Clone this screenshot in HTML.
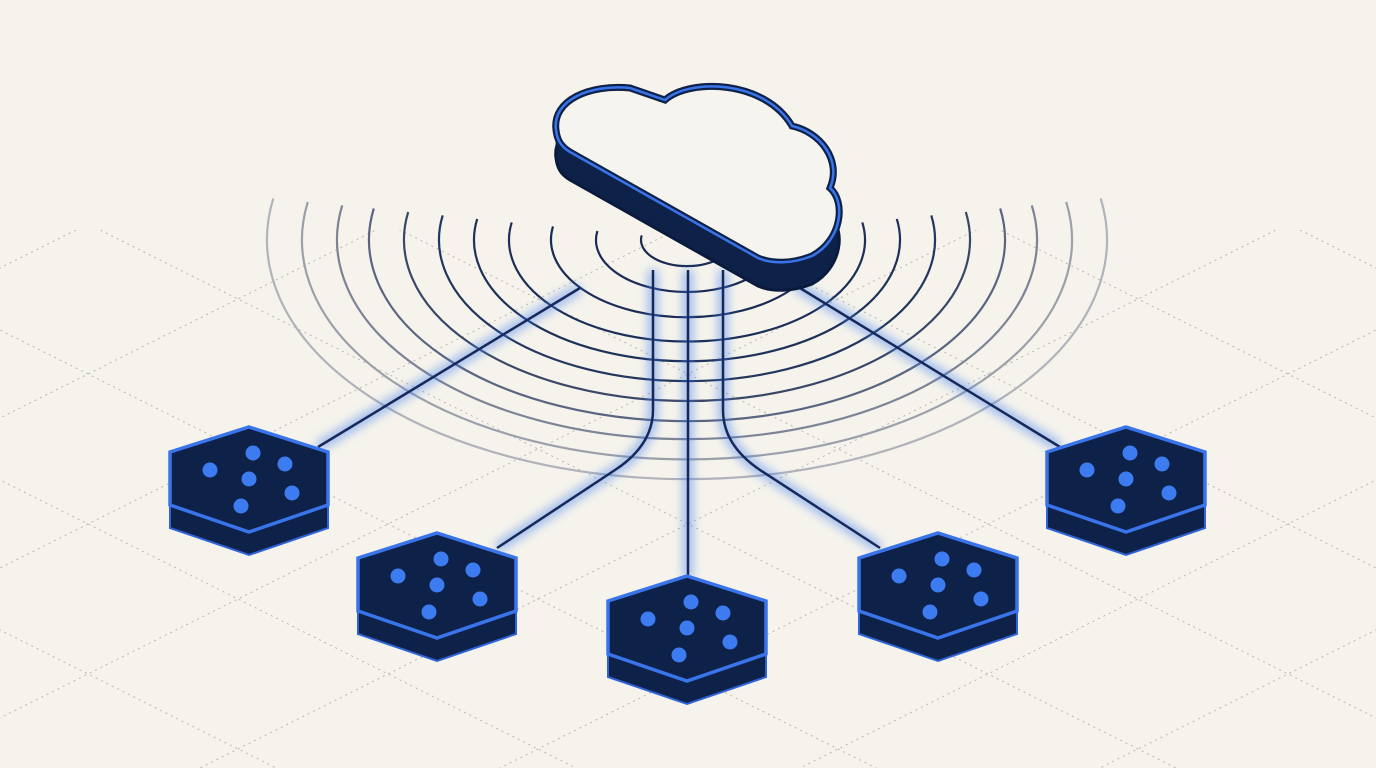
<!DOCTYPE html>
<html><head><meta charset="utf-8"><style>html,body{margin:0;padding:0;background:#f5f3ec;overflow:hidden;width:1376px;height:768px}svg{display:block}</style></head>
<body>
<svg width="1376" height="768" viewBox="0 0 1376 768" xmlns="http://www.w3.org/2000/svg" style="overflow:hidden">
<defs>
<filter id="glow" x="-20%" y="-20%" width="140%" height="140%"><feGaussianBlur stdDeviation="5"/></filter>
<clipPath id="gclip"><rect x="0" y="230" width="1376" height="538"/></clipPath>
<g id="hex">
 <polygon points="0,23 79,48 79,101 0,128 -79,101 -79,48" fill="#0e2249" stroke="#2f63d8" stroke-width="2"/>
 <polygon points="0,0 79,25 79,78 0,105 -79,78 -79,25" fill="#0e2249" stroke="#3a74ea" stroke-width="3.5"/>
 <g fill="#3d7cf0">
  <circle cx="4" cy="26" r="7.5"/><circle cx="-39" cy="43" r="7.5"/><circle cx="36" cy="37" r="7.5"/>
  <circle cx="0" cy="52" r="7.5"/><circle cx="43" cy="66" r="7.5"/><circle cx="-8" cy="79" r="7.5"/>
 </g>
</g>
<path id="cloud" d="M556,130 C552,100 590,84 630,88 L665,100 C690,78 765,80 792,126 C820,132 842,160 830,188 C846,202 842,240 812,256 C792,264 772,264 758,258 L570,152 C560,146 557,139 556,130 Z"/>
</defs>
<rect width="1376" height="768" fill="#f5f3ec"/>
<g clip-path="url(#gclip)" stroke="#b9b8ae" stroke-width="1" stroke-dasharray="2 4" fill="none">
 <path d="M-400,280 L1376,1168 M-300,180 L1476,1068 M-200,80 L1576,968 M-100,-20 L1676,868 M0,-120 L1776,768 M100,-220 L1876,668 M200,-320 L1976,568 M300,-420 L2076,468 M-500,380 L1276,1268 M-600,480 L1176,1368 M-700,580 L1076,1468"/>
 <path d="M1776,280 L0,1168 M1676,180 L-100,1068 M1576,80 L-200,968 M1476,-20 L-300,868 M1376,-120 L-400,768 M1276,-220 L-500,668 M1176,-320 L-600,568 M1076,-420 L-700,468 M1876,380 L100,1268 M1976,480 L200,1368 M2076,580 L300,1468"/>
</g>
<g fill="none" stroke-width="2.2">
 <path d="M641.7,235.4 A46,26.2 0 1 0 732.3,235.4" stroke="#1a2c55"/>
 <path d="M597.4,231 A91,51.9 0 1 0 776.6,231" stroke="#1a2c55"/>
 <path d="M553,226.5 A136,77.5 0 1 0 821,226.5" stroke="#1a2c55"/>
 <path d="M511.7,222.4 A178,101.5 0 1 0 862.3,222.4" stroke="#1c2f58"/>
 <path d="M477.2,218.9 A213,121.4 0 1 0 896.8,218.9" stroke="#1e3159"/>
 <path d="M442.7,215.4 A248,141.4 0 1 0 931.3,215.4" stroke="#23365d"/>
 <path d="M408.2,212 A283,161.3 0 1 0 965.8,212" stroke="#3a4868"/>
 <path d="M373.8,208.5 A318,181.3 0 1 0 1000.2,208.5" stroke="#5a6580"/>
 <path d="M342.2,205.4 A350,199.5 0 1 0 1031.8,205.4" stroke="#7c8496"/>
 <path d="M307.8,201.9 A385,219.5 0 1 0 1066.2,201.9" stroke="#9ba0ab"/>
 <path d="M273.3,198.4 A420,239.4 0 1 0 1100.7,198.4" stroke="#b0b3ba"/>
</g>
<g fill="none" stroke="#3d7cf0" stroke-width="9" opacity="0.55" filter="url(#glow)">
 <path d="M318,447 L580,288"/><path d="M1060,447 L795,285"/>
 <path d="M497,548 L615,470 Q653,445 653,410 L653,270"/>
 <path d="M688,578 L688,270"/>
 <path d="M880,548 L760,470 Q723,445 723,410 L723,270"/>
</g>
<g fill="none" stroke="#16295a" stroke-width="2.5">
 <path d="M318,447 L580,288"/><path d="M1060,447 L795,285"/>
 <path d="M497,548 L615,470 Q653,445 653,410 L653,270"/>
 <path d="M688,578 L688,270"/>
 <path d="M880,548 L760,470 Q723,445 723,410 L723,270"/>
</g>
<g fill="#0e2249">
 <use href="#cloud" y="28"/><use href="#cloud" y="24"/><use href="#cloud" y="20"/><use href="#cloud" y="16"/><use href="#cloud" y="12"/><use href="#cloud" y="8"/><use href="#cloud" y="4"/>
</g>
<use href="#cloud" y="28" fill="none" stroke="#0a1a3c" stroke-width="3"/>
<use href="#cloud" fill="#f6f4ee" stroke="#0e2249" stroke-width="7"/>
<use href="#cloud" fill="none" stroke="#3a74ea" stroke-width="2.5"/>
<use href="#hex" x="249" y="427"/>
<use href="#hex" x="437" y="533"/>
<use href="#hex" x="687" y="576"/>
<use href="#hex" x="938" y="533"/>
<use href="#hex" x="1126" y="427"/>
</svg>
</body></html>
